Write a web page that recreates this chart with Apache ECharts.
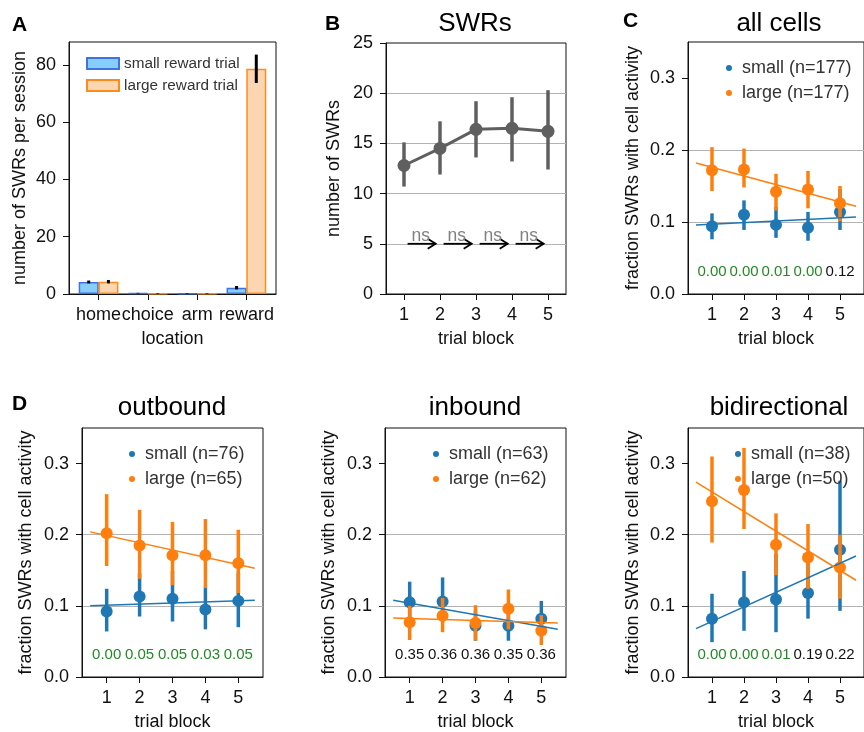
<!DOCTYPE html>
<html>
<head>
<meta charset="utf-8">
<script src="https://cdn.jsdelivr.net/npm/echarts@6/dist/echarts.min.js"></script>
<style>html,body{margin:0;padding:0;background:#fff}#main{width:864px;height:732px}</style>
</head>
<body>
<div id="main"></div>
<script>
// A: SWRs per location
const locations = ['home', 'choice', 'arm', 'reward'];
const smallBars = [4.2, 0.3, 0.2, 2.2];
const largeBars = [4.3, 0.2, 0.2, 78.7];
const smallBarLo = [3.7, 0.2, 0.1, 1.6];
const smallBarHi = [4.7, 0.4, 0.3, 2.8];
const largeBarLo = [3.7, 0.1, 0.1, 73.7];
const largeBarHi = [4.9, 0.3, 0.3, 83.6];
const yTicksA = [0, 20, 40, 60, 80];

// B: SWRs per trial block
const blocks = [1, 2, 3, 4, 5];
const swrMean = [12.8, 14.5, 16.4, 16.5, 16.2];
const swrLo = [10.7, 11.9, 13.6, 13.2, 12.4];
const swrHi = [15.1, 17.2, 19.2, 19.6, 20.3];
const arrowFrom = [1.1, 2.1, 3.1, 4.1];
const arrowTo = [1.88, 2.88, 3.88, 4.88];
const nsLabels = ['ns', 'ns', 'ns', 'ns'];
const yTicksB = [0, 5, 10, 15, 20, 25];

// C / D: fraction of SWRs with cell activity
const fracTicks = [0, 0.1, 0.2, 0.3];
const fitX = [0.5, 5.5];

const allSmall = [0.094, 0.110, 0.096, 0.092, 0.114];
const allSmallLo = [0.076, 0.089, 0.078, 0.074, 0.089];
const allSmallHi = [0.112, 0.130, 0.121, 0.114, 0.146];
const allLarge = [0.172, 0.173, 0.142, 0.145, 0.126];
const allLargeLo = [0.143, 0.148, 0.116, 0.119, 0.101];
const allLargeHi = [0.204, 0.202, 0.167, 0.171, 0.150];
const allSmallFit = [0.096, 0.107];
const allLargeFit = [0.182, 0.122];
const allP = ['0.00', '0.00', '0.01', '0.00', '0.12'];

const outSmall = [0.092, 0.113, 0.110, 0.095, 0.107];
const outSmallLo = [0.064, 0.085, 0.078, 0.067, 0.070];
const outSmallHi = [0.124, 0.146, 0.149, 0.126, 0.147];
const outLarge = [0.202, 0.185, 0.171, 0.171, 0.160];
const outLargeLo = [0.156, 0.138, 0.129, 0.125, 0.118];
const outLargeHi = [0.257, 0.235, 0.218, 0.222, 0.207];
const outSmallFit = [0.100, 0.108];
const outLargeFit = [0.204, 0.153];
const outP = ['0.00', '0.05', '0.05', '0.03', '0.05'];

const inSmall = [0.105, 0.106, 0.072, 0.072, 0.082];
const inSmallLo = [0.075, 0.078, 0.051, 0.051, 0.058];
const inSmallHi = [0.134, 0.140, 0.094, 0.090, 0.107];
const inLarge = [0.077, 0.086, 0.076, 0.096, 0.065];
const inLargeLo = [0.052, 0.063, 0.051, 0.067, 0.045];
const inLargeHi = [0.100, 0.111, 0.101, 0.123, 0.087];
const inSmallFit = [0.108, 0.067];
const inLargeFit = [0.083, 0.076];
const inP = ['0.35', '0.36', '0.36', '0.35', '0.36'];

const biSmall = [0.082, 0.105, 0.109, 0.118, 0.179];
const biSmallLo = [0.049, 0.065, 0.063, 0.082, 0.093];
const biSmallHi = [0.117, 0.149, 0.173, 0.161, 0.276];
const biLarge = [0.247, 0.263, 0.186, 0.168, 0.154];
const biLargeLo = [0.189, 0.208, 0.143, 0.124, 0.110];
const biLargeHi = [0.310, 0.322, 0.230, 0.215, 0.200];
const biSmallFit = [0.068, 0.170];
const biLargeFit = [0.274, 0.136];
const biP = ['0.00', '0.00', '0.01', '0.19', '0.22'];

const FONT = 'Liberation Sans, Arial, sans-serif';
const INK = '#111';
const BLUE = '#1f77b4', ORANGE = '#ff7f0e', GREY = '#5f5f5f', PGREEN = '#238b23';

const chart = echarts.init(document.getElementById('main'));

const grids = [
    {left: 69, top: 42, width: 207, height: 252},
    {left: 386, top: 43, width: 180, height: 251},
    {left: 688, top: 42, width: 181, height: 252},
    {left: 82, top: 428, width: 181, height: 250},
    {left: 385, top: 428, width: 181, height: 250},
    {left: 688, top: 428, width: 181, height: 250}
].map(g => Object.assign(g, {show: true, borderColor: INK, borderWidth: 1, backgroundColor: 'transparent'}));

const lineStyle = {color: INK, width: 1};
function xAxis(gi, min, max, ticks, name, fmt) {
    return {
        gridIndex: gi, type: 'value', min: min, max: max,
        name: name, nameLocation: 'middle', nameGap: 36,
        nameTextStyle: {fontSize: 18, color: INK, fontFamily: FONT},
        axisLine: {onZero: false, lineStyle: lineStyle},
        axisTick: {customValues: ticks, length: 6, lineStyle: lineStyle},
        axisLabel: {customValues: ticks, fontSize: 18, color: INK, fontFamily: FONT, margin: 12, formatter: fmt},
        splitLine: {show: false}
    };
}
function yAxis(gi, min, max, interval, ticks, name, gap, grid, fmt) {
    return {
        gridIndex: gi, type: 'value', min: min, max: max, interval: interval,
        name: name, nameLocation: 'middle', nameGap: gap,
        nameTextStyle: {fontSize: 18, color: INK, fontFamily: FONT},
        axisLine: {show: true, onZero: false, lineStyle: lineStyle},
        axisTick: {customValues: ticks, length: 6, lineStyle: lineStyle},
        axisLabel: {customValues: ticks, fontSize: 18, color: INK, fontFamily: FONT, margin: 13, formatter: fmt},
        splitLine: {show: grid, showMinLine: false, showMaxLine: false, lineStyle: {color: '#b3b3b3', width: 1}}
    };
}

function errSeries(gi, xs, lo, hi, color, width, z) {
    return {
        type: 'custom', xAxisIndex: gi, yAxisIndex: gi, z: z, silent: true,
        data: xs.map((x, i) => [x, lo[i], hi[i]]),
        renderItem: function (params, api) {
            const a = api.coord([api.value(0), api.value(1)]);
            const b = api.coord([api.value(0), api.value(2)]);
            return {type: 'line', shape: {x1: a[0], y1: a[1], x2: b[0], y2: b[1]},
                style: {stroke: color, lineWidth: width}};
        }
    };
}

const xAxes = [], yAxes = [], series = [], legends = [];

// ---- A
xAxes.push(xAxis(0, -0.6, 3.6, [0, 1, 2, 3], 'location', v => locations[v]));
yAxes.push(yAxis(0, 0, 88, 20, yTicksA, 'number of SWRs per session', 40, false));
series.push({
    name: 'small reward trial', type: 'bar', xAxisIndex: 0, yAxisIndex: 0,
    barWidth: 20, barGap: '-100%',
    data: locations.map((l, i) => [i - 0.2, smallBars[i]]),
    itemStyle: {color: '#87cefa', borderColor: '#3f72e6', borderWidth: 1.5}
}, {
    name: 'large reward trial', type: 'bar', xAxisIndex: 0, yAxisIndex: 0,
    barWidth: 20, barGap: '-100%',
    data: locations.map((l, i) => [i + 0.2, largeBars[i]]),
    itemStyle: {color: '#fcd6b3', borderColor: '#ff8c1a', borderWidth: 1.5}
});
series.push(errSeries(0, locations.map((l, i) => i - 0.2), smallBarLo, smallBarHi, '#000', 3, 5));
series.push(errSeries(0, locations.map((l, i) => i + 0.2), largeBarLo, largeBarHi, '#000', 3, 5));
legends.push({
    data: ['small reward trial', 'large reward trial'], left: 81, top: 51, orient: 'vertical',
    icon: 'rect', itemWidth: 32, itemHeight: 11, itemGap: 7, selectedMode: false,
    textStyle: {fontSize: 15.3, color: '#333', fontFamily: FONT}
});

// ---- B
xAxes.push(xAxis(1, 0.5, 5.5, blocks, 'trial block'));
yAxes.push(yAxis(1, 0, 25, 5, yTicksB, 'number of SWRs', 43, true));
series.push(errSeries(1, blocks, swrLo, swrHi, GREY, 3.5, 3));
series.push({
    type: 'line', xAxisIndex: 1, yAxisIndex: 1, z: 4,
    data: blocks.map((b, i) => [b, swrMean[i]]),
    symbol: 'circle', symbolSize: 13, showSymbol: true,
    lineStyle: {color: GREY, width: 3}, itemStyle: {color: GREY}
});
series.push({
    type: 'custom', xAxisIndex: 1, yAxisIndex: 1, z: 5, silent: true,
    data: arrowFrom.map((x, i) => [x, arrowTo[i], 5]),
    renderItem: function (params, api) {
        const a = api.coord([api.value(0), api.value(2)]);
        const b = api.coord([api.value(1), api.value(2)]);
        return {type: 'group', children: [
            {type: 'line', shape: {x1: a[0], y1: a[1], x2: b[0], y2: b[1]}, style: {stroke: '#000', lineWidth: 1.8}},
            {type: 'polyline', shape: {points: [[b[0] - 8, b[1] - 5], [b[0], b[1]], [b[0] - 8, b[1] + 5]]},
                style: {stroke: '#000', lineWidth: 1.8, fill: null}},
            {type: 'text', x: (a[0] + b[0]) / 2 - 1, y: a[1] - 8,
                style: {text: nsLabels[params.dataIndex], fill: '#808080', font: '17.5px ' + FONT,
                    textAlign: 'center', textVerticalAlign: 'middle'}}
        ]};
    }
});

// ---- C / D panels
const fracPanels = [
    {gi: 2, s: allSmall, sLo: allSmallLo, sHi: allSmallHi, l: allLarge, lLo: allLargeLo, lHi: allLargeHi,
        sFit: allSmallFit, lFit: allLargeFit, p: allP, sName: 'small (n=177)', lName: 'large (n=177)', gap: 46, legLeft: 721, legTop: 54},
    {gi: 3, s: outSmall, sLo: outSmallLo, sHi: outSmallHi, l: outLarge, lLo: outLargeLo, lHi: outLargeHi,
        sFit: outSmallFit, lFit: outLargeFit, p: outP, sName: 'small (n=76)', lName: 'large (n=65)', gap: 47, legLeft: 124, legTop: 440},
    {gi: 4, s: inSmall, sLo: inSmallLo, sHi: inSmallHi, l: inLarge, lLo: inLargeLo, lHi: inLargeHi,
        sFit: inSmallFit, lFit: inLargeFit, p: inP, sName: 'small (n=63)', lName: 'large (n=62)', gap: 47, legLeft: 428, legTop: 440},
    {gi: 5, s: biSmall, sLo: biSmallLo, sHi: biSmallHi, l: biLarge, lLo: biLargeLo, lHi: biLargeHi,
        sFit: biSmallFit, lFit: biLargeFit, p: biP, sName: 'small (n=38)', lName: 'large (n=50)', gap: 46, legLeft: 730, legTop: 440}
];

fracPanels.forEach(pn => {
    const gi = pn.gi;
    xAxes.push(xAxis(gi, 0.25, 5.75, blocks, 'trial block'));
    yAxes.push(yAxis(gi, 0, 0.35, 0.1, fracTicks, 'fraction SWRs with cell activity', pn.gap, true, v => v.toFixed(1)));
    series.push(errSeries(gi, blocks, pn.sLo, pn.sHi, BLUE, 3.5, 2));
    series.push({name: pn.sName, type: 'scatter', xAxisIndex: gi, yAxisIndex: gi, z: 2,
        symbolSize: 12, data: blocks.map((b, i) => [b, pn.s[i]]), itemStyle: {color: BLUE, opacity: 1}});
    series.push(errSeries(gi, blocks, pn.lLo, pn.lHi, ORANGE, 3.5, 3));
    series.push({name: pn.lName, type: 'scatter', xAxisIndex: gi, yAxisIndex: gi, z: 3,
        symbolSize: 12, data: blocks.map((b, i) => [b, pn.l[i]]), itemStyle: {color: ORANGE, opacity: 1}});
    series.push({type: 'line', xAxisIndex: gi, yAxisIndex: gi, z: 4, showSymbol: false, silent: true,
        data: fitX.map((x, i) => [x, pn.sFit[i]]), lineStyle: {color: BLUE, width: 1.5}});
    series.push({type: 'line', xAxisIndex: gi, yAxisIndex: gi, z: 4, showSymbol: false, silent: true,
        data: fitX.map((x, i) => [x, pn.lFit[i]]), lineStyle: {color: ORANGE, width: 1.5}});
    series.push({
        type: 'custom', xAxisIndex: gi, yAxisIndex: gi, z: 5, silent: true,
        data: blocks.map(b => [b, 0.031]),
        renderItem: function (params, api) {
            const c = api.coord([api.value(0), api.value(1)]);
            const txt = pn.p[params.dataIndex];
            return {type: 'text', x: c[0], y: c[1],
                style: {text: txt, fill: parseFloat(txt) <= 0.05 ? PGREEN : INK, font: '15px ' + FONT,
                    textAlign: 'center', textVerticalAlign: 'middle'}};
        }
    });
    legends.push({
        data: [pn.sName, pn.lName], left: pn.legLeft, top: pn.legTop, orient: 'vertical',
        icon: 'circle', itemWidth: 16, itemHeight: 6, itemGap: 7, selectedMode: false,
        textStyle: {fontSize: 18, color: '#333', fontFamily: FONT}
    });
});

// panel letters and titles
const texts = [
    {t: 'A', x: 12, y: 25, bold: true}, {t: 'B', x: 325, y: 24, bold: true},
    {t: 'C', x: 623, y: 21, bold: true}, {t: 'D', x: 12, y: 404, bold: true},
    {t: 'SWRs', x: 475, y: 24, center: true}, {t: 'all cells', x: 779, y: 24, center: true},
    {t: 'outbound', x: 172, y: 408, center: true}, {t: 'inbound', x: 475, y: 408, center: true},
    {t: 'bidirectional', x: 779, y: 408, center: true}
];

const option = {
    animation: false,
    backgroundColor: '#fff',
    textStyle: {fontFamily: FONT},
    grid: grids,
    xAxis: xAxes,
    yAxis: yAxes,
    legend: legends,
    series: series,
    graphic: texts.map(o => ({
        type: 'text', x: o.x, y: o.y,
        style: {text: o.t, fill: '#000',
            font: o.bold ? 'bold 21px ' + FONT : '26px ' + FONT,
            textAlign: o.center ? 'center' : 'left', textVerticalAlign: 'middle'}
    }))
};
chart.setOption(option);
</script>
</body>
</html>
